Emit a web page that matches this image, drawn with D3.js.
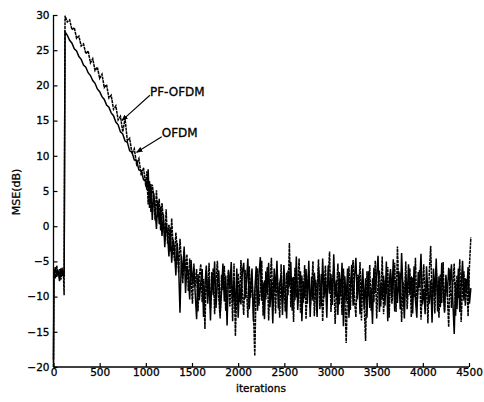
<!DOCTYPE html>
<html>
<head>
<meta charset="utf-8">
<script src="https://cdn.jsdelivr.net/npm/d3@7"></script>
<style>
  html, body { margin: 0; padding: 0; background: #fff; }
  svg { display: block; }
  text { font-family: "DejaVu Sans", sans-serif; fill: #000; stroke: #000; stroke-width: 0.3px; }
</style>
</head>
<body>
<svg id="chart" width="484" height="402"></svg>
<script>
// ---- data ----
const seriesNames = ["PF-OFDM", "OFDM"];
const xTicks = [0, 500, 1000, 1500, 2000, 2500, 3000, 3500, 4000, 4500];
const yTicks = [-20, -15, -10, -5, 0, 5, 10, 15, 20, 25, 30];
// warm-up iterations (before adaptation starts)
const warmupIterations = [0, 5, 20, 35, 50, 65, 80, 95, 108, 115];
const warmupPF = [-20, -6.2, -7.4, -5.6, -7.0, -6.1, -7.6, -5.9, -6.8, -9.8];
const warmupOFDM = [-19, -6.8, -5.8, -7.2, -6.3, -7.8, -6.0, -7.1, -6.4, -7.2];
// convergence phase: iterations 125, 150, ... 1000 (every 25)
const declineStart = 125, declineStep = 25;
const declinePF = [
  29.9, 29.0, 29.3, 27.9, 28.2, 26.7, 27.0, 25.6,
  25.9, 24.5, 24.9, 23.2, 23.8, 22.1, 22.6, 21.0,
  21.6, 19.7, 20.1, 18.2, 18.6, 16.6, 17.1, 15.1,
  15.6, 13.4, 15.3, 12.1, 12.5, 10.3, 11.0, 8.8,
  9.6, 7.2, 8.3, 5.6
];
const declineOFDM = [
  27.6, 27.1, 26.4, 26.0, 25.2, 24.9, 24.1, 23.7,
  22.9, 22.6, 21.8, 21.4, 20.7, 20.3, 19.5, 19.1,
  18.4, 18.0, 17.2, 16.9, 16.1, 15.7, 14.8, 14.4,
  13.4, 13.1, 12.1, 11.9, 10.7, 10.5, 9.4, 9.3,
  8.0, 7.9, 6.6, 6.4
];
// late convergence + steady state: iterations 1010, 1025, ... 4520 (every 15)
const steadyStart = 1010, steadyStep = 15;
const steadyPF = [
  7.8, 3.1, 6.4, 2.0, 5.9, 4.4, 0.8, 5.1, 1.3, 3.9,
  -0.6, 3.3, 0.9, -1.8, 2.4, -2.5, 0.2, -3.6, 1.1, -2.8,
  -4.9, -0.9, -3.2, -6.6, -1.8, -5.0, -8.1, -3.5, -6.4, -4.0,
  -9.2, -4.6, -7.7, -11.0, -5.3, -8.6, -6.1, -12.1, -7.0, -5.4,
  -10.8, -7.5, -14.6, -6.3, -9.9, -5.2, -11.7, -8.4, -6.0, -12.5,
  -7.8, -4.9, -10.3, -13.1, -6.9, -9.1, -5.6, -12.0, -8.7, -6.4,
  -11.4, -7.1, -13.5, -5.3, -15.6, -8.9, -6.7, -10.8, -4.8, -9.6,
  -12.6, -6.2, -8.8, -13.0, -5.7, -10.2, -7.4, -11.9, -18.4, -8.1,
  -6.0, -11.3, -9.0, -4.9, -12.7, -7.7, -10.4, -5.8, -13.4, -8.3,
  -4.5, -10.6, -7.2, -12.4, -6.1, -9.5, -13.0, -5.4, -11.0, -7.9,
  -12.1, -6.6, -9.8, -2.4, -11.5, -7.3, -13.6, -5.9, -10.1, -8.2,
  -4.6, -12.3, -7.0, -10.9, -5.5, -13.2, -8.6, -6.3, -11.6, -9.1,
  -5.0, -12.8, -7.6, -10.0, -4.7, -11.8, -6.8, -13.5, -8.9, -5.6,
  -10.7, -7.2, -3.6, -12.2, -8.0, -6.2, -13.9, -9.4, -5.3, -11.1,
  -7.5, -12.6, -6.0, -9.7, -16.6, -8.4, -5.7, -11.9, -7.0, -4.8,
  -10.5, -12.9, -6.9, -9.2, -5.1, -13.4, -7.8, -11.2, -16.3, -6.4,
  -9.9, -5.5, -12.0, -7.4, -10.8, -4.9, -13.1, -8.1, -6.3, -11.4,
  -4.3, -12.5, -7.7, -9.6, -5.8, -13.0, -6.7, -11.0, -8.5, -5.2,
  -12.2, -2.9, -9.3, -6.6, -13.6, -7.9, -10.6, -5.0, -11.8, -8.2,
  -6.0, -12.9, -7.3, -10.1, -4.5, -11.5, -8.8, -6.2, -13.3, -9.0,
  -5.4, -11.2, -7.6, -13.8, -6.5, -2.8, -10.3, -8.0, -12.4, -5.9,
  -9.4, -13.0, -6.8, -10.9, -5.1, -12.3, -7.4, -9.7, -14.3, -6.1,
  -11.6, -8.3, -5.3, -12.7, -7.0, -10.2, -4.7, -13.6, -8.6, -6.4,
  -11.3, -7.5, -12.8, -5.6, -1.6
];
const steadyOFDM = [
  5.2, 8.1, 2.6, 6.0, 0.9, 4.7, 2.5, -0.4, 3.6, 0.3,
  2.8, -1.4, 1.7, -3.0, 0.4, -1.1, -4.3, -0.2, -5.2, -1.9,
  -3.1, -7.0, -2.4, -5.5, -12.3, -4.2, -7.3, -2.9, -9.5, -5.8,
  -6.6, -10.4, -4.8, -8.3, -5.9, -9.6, -13.2, -6.8, -10.5, -8.0,
  -6.1, -12.9, -8.5, -5.6, -11.0, -7.4, -13.4, -6.5, -9.8, -5.0,
  -11.6, -7.9, -6.3, -12.4, -9.3, -5.3, -10.7, -7.0, -14.1, -6.2,
  -8.7, -5.1, -10.9, -7.6, -12.3, -6.0, -13.0, -8.2, -11.1, -6.6,
  -5.2, -10.3, -7.9, -4.6, -11.8, -8.4, -6.0, -13.5, -9.2, -5.7,
  -12.0, -7.0, -4.4, -10.6, -8.0, -13.2, -6.4, -9.7, -5.2, -11.5,
  -7.6, -13.8, -6.0, -9.2, -4.9, -11.7, -8.1, -6.9, -12.6, -5.5,
  -9.0, -13.1, -6.3, -8.6, -5.1, -12.0, -7.2, -10.5, -4.3, -11.9,
  -8.3, -6.4, -13.5, -7.8, -10.2, -6.1, -11.0, -4.9, -12.9, -7.2,
  -10.6, -6.6, -9.3, -12.9, -5.8, -8.0, -11.4, -4.6, -10.1, -7.4,
  -13.0, -5.6, -9.6, -6.8, -11.2, -4.0, -10.0, -7.7, -12.6, -6.5,
  -9.8, -5.2, -14.2, -7.1, -10.7, -6.0, -13.0, -8.7, -5.5, -11.3,
  -7.3, -4.5, -10.4, -6.9, -12.5, -8.8, -6.0, -11.8, -7.4, -13.0,
  -6.4, -11.6, -8.9, -13.9, -5.9, -9.5, -7.0, -4.2, -12.2, -8.0,
  -10.4, -7.0, -11.3, -5.0, -13.5, -8.3, -6.1, -10.1, -4.7, -12.1,
  -7.7, -10.9, -6.4, -11.8, -3.8, -9.0, -13.1, -6.9, -10.3, -5.4,
  -9.8, -7.1, -12.4, -5.7, -10.5, -13.0, -6.5, -8.7, -3.9, -11.1,
  -8.9, -12.5, -5.7, -9.6, -11.0, -7.7, -13.7, -6.0, -10.0, -4.6,
  -12.1, -7.1, -11.5, -5.2, -9.1, -12.1, -6.9, -10.0, -5.9, -8.3,
  -5.4, -10.7, -15.3, -7.9, -11.8, -6.0, -12.2, -8.6, -4.9, -10.6,
  -7.4, -9.5, -5.8, -11.0, -8.8
];
// annotation labels with arrow tip and tail in (iteration, dB)
const annoLabels = ["PF-OFDM", "OFDM"];
const annoTips = [[740, 15.0], [900, 10.5]];
const annoTails = [[1044, 18.6], [1172, 12.7]];

// ---- build series ----
function build(warm, decline, steady) {
  const pts = warmupIterations.map((it, i) => [it, warm[i]]);
  decline.forEach((v, i) => pts.push([declineStart + i * declineStep, v]));
  steady.forEach((v, i) => pts.push([steadyStart + i * steadyStep, v]));
  return pts;
}
const series = [
  { name: seriesNames[0], pts: build(warmupPF, declinePF, steadyPF), dash: "3,0.7", width: 1.5 },
  { name: seriesNames[1], pts: build(warmupOFDM, declineOFDM, steadyOFDM), dash: null, width: 1.5 }
];

// ---- layout ----
const svg = d3.select("#chart");
const x = d3.scaleLinear().domain([0, 4500]).range([53.5, 469]);
const y = d3.scaleLinear().domain([-20, 30]).range([367, 15]);

const line = d3.line().x(d => x(d[0])).y(d => y(d[1]));

series.slice().reverse().forEach(s => {
  svg.append("path")
    .datum(s.pts)
    .attr("fill", "none")
    .attr("stroke", "#000")
    .attr("stroke-width", s.width)
    .attr("stroke-linejoin", "miter")
    .attr("stroke-dasharray", s.dash)
    .attr("d", line);
});

// axes (MATLAB style, inward ticks, no box)
const xAxis = d3.axisBottom(x).tickValues(xTicks).tickSize(-4).tickPadding(3).tickFormat(d3.format("d"));
const gx = svg.append("g").attr("transform", `translate(0,${y(-20)})`).call(xAxis);
gx.select(".domain").attr("stroke", "#000").attr("stroke-width", 1.3).attr("d", `M${x(0)},0H${x(4500)}`);
gx.selectAll(".tick line").attr("stroke", "#000").attr("stroke-width", 1.2);
gx.selectAll("text").attr("font-size", 10.5).attr("font-family", "DejaVu Sans").attr("dy", "0.6em");

const yAxis = d3.axisLeft(y).tickValues(yTicks).tickSize(-4).tickPadding(4).tickFormat(d3.format("d"));
const gy = svg.append("g").attr("transform", `translate(${x(0)},0)`).call(yAxis);
gy.select(".domain").attr("stroke", "#000").attr("stroke-width", 1.3).attr("d", `M0,${y(-20)}V${y(30)}`);
gy.selectAll(".tick line").attr("stroke", "#000").attr("stroke-width", 1.2);
gy.selectAll("text").attr("font-size", 10.5).attr("font-family", "DejaVu Sans");

// axis titles
svg.append("text")
  .attr("x", 261).attr("y", 392)
  .attr("text-anchor", "middle")
  .attr("font-size", 10.5)
  .text("iterations");
svg.append("text")
  .attr("transform", "translate(20,192) rotate(-90)")
  .attr("text-anchor", "middle")
  .attr("font-size", 11)
  .text("MSE(dB)");

// annotations with arrows
svg.append("defs").append("marker")
  .attr("id", "arrowhead")
  .attr("viewBox", "0 0 10 10")
  .attr("refX", 9).attr("refY", 5)
  .attr("markerWidth", 6).attr("markerHeight", 6)
  .attr("orient", "auto")
  .append("path").attr("d", "M0,1L10,5L0,9Z").attr("fill", "#000");

annoLabels.forEach((lab, i) => {
  const [tx, ty] = annoTails[i];
  const [px, py] = annoTips[i];
  svg.append("line")
    .attr("x1", x(tx)).attr("y1", y(ty))
    .attr("x2", x(px)).attr("y2", y(py))
    .attr("stroke", "#000").attr("stroke-width", 1.1)
    .attr("marker-end", "url(#arrowhead)");
  svg.append("text")
    .attr("x", x(tx)).attr("y", y(ty) - 2)
    .attr("font-size", 12)
    .attr("dy", "0.2em")
    .text(lab);
});
</script>
</body>
</html>
